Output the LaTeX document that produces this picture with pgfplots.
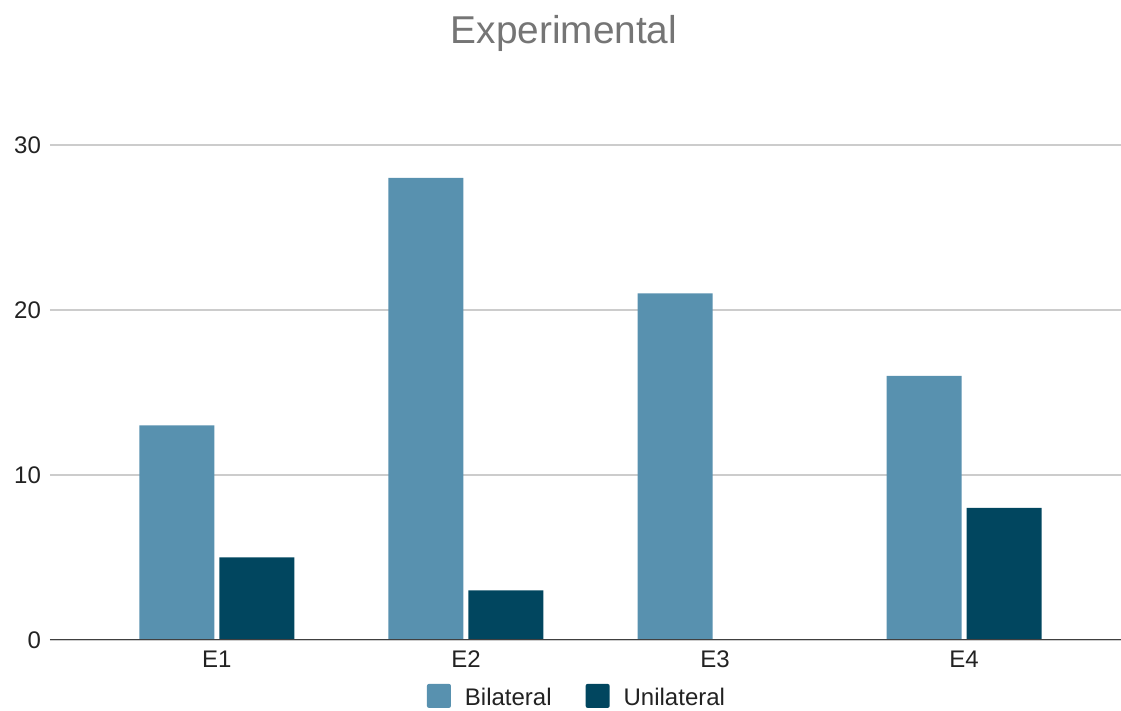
\documentclass[border=0pt]{standalone}
\usepackage{pgfplots}
\pgfplotsset{compat=1.18}
\usepackage{fontspec}
\setmainfont{Liberation Sans}
\definecolor{bil}{HTML}{5891AF}
\definecolor{uni}{HTML}{01465F}
\definecolor{ttl}{HTML}{757575}
\definecolor{grd}{HTML}{CCCCCC}
\definecolor{txt}{HTML}{222222}
\begin{document}
\begin{tikzpicture}
\useasboundingbox (0,0) rectangle (560.5pt,355.5pt);
\begin{axis}[
  at={(25pt,35.5pt)}, anchor=south west,
  scale only axis, width=535.5pt, height=247.5pt,
  ybar=2.5pt, bar width=37.5pt,
  xmin=-0.67, xmax=3.63, ymin=0, ymax=30,
  xtick={0,1,2,3}, xticklabels={E1,E2,E3,E4},
  ytick={0,10,20,30},
  /pgf/number format/assume math mode=true,
  tick label style={font=\fontsize{12}{14}\selectfont, text=txt},
  major tick length=0pt,
  ymajorgrids, grid style={grd, line width=0.6pt},
  axis line style={draw=none},
  axis x line*=bottom, axis y line*=left,
  xticklabel style={yshift=-2pt},
  yticklabel style={xshift=-1pt},
  legend columns=2,
  legend style={at={(0.493,-0.117)}, anchor=center, draw=none, fill=none,
    font=\fontsize{12}{14}\selectfont, text=txt,
    /tikz/every odd column/.append style={column sep=5pt},
    /tikz/every even column/.append style={column sep=15pt}},
  legend image code/.code={\fill[#1, rounded corners=1pt] (0pt,-5pt) rectangle (12pt,7pt);},
]
\addplot[fill=bil, draw=none] coordinates {(0,13) (1,28) (2,21) (3,16)};
\addplot[fill=uni, draw=none] coordinates {(0,5) (1,3) (2,0) (3,8)};
\legend{Bilateral,Unilateral}
\draw[color=black!75, line width=0.8pt] (axis cs:-0.67,0) -- (axis cs:3.63,0);
\end{axis}
\node[font=\fontsize{19.4}{22}\selectfont, text=ttl] at (282pt,339pt) {Experimental};
\end{tikzpicture}
\end{document}
